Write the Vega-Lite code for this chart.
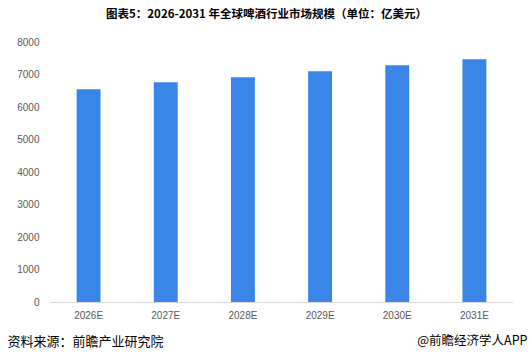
{
  "$schema": "https://vega.github.io/schema/vega-lite/v6.json",
  "width": 463,
  "height": 260,
  "autosize": {"type": "none"},
  "padding": {"left": 50, "top": 42, "right": 19, "bottom": 50},
  "background": "white",
  "title": {
    "text": "图表5：2026-2031 年全球啤酒行业市场规模（单位：亿美元）",
    "font": "Noto Sans CJK SC",
    "fontWeight": "bold",
    "fontSize": 11.5,
    "color": "#000000",
    "anchor": "middle",
    "frame": "group",
    "dx": -15,
    "offset": 11,
    "baseline": "middle"
  },
  "data": {
    "values": [
      {"year": "2026E", "value": 6545},
      {"year": "2027E", "value": 6760},
      {"year": "2028E", "value": 6915},
      {"year": "2029E", "value": 7100},
      {"year": "2030E", "value": 7285},
      {"year": "2031E", "value": 7468}
    ]
  },
  "mark": {"type": "bar", "color": "#3a86e8"},
  "encoding": {
    "x": {
      "field": "year",
      "type": "nominal",
      "sort": null,
      "scale": {"paddingInner": 0.69, "paddingOuter": 0.345},
      "axis": {
        "title": "资料来源：前瞻产业研究院",
        "titleFont": "Noto Sans CJK SC",
        "titleFontSize": 13,
        "titleFontWeight": "normal",
        "titleColor": "#000000",
        "titleAnchor": "start",
        "titleAlign": "left",
        "titleBaseline": "middle",
        "titleX": -43,
        "titleY": 39,
        "labelAngle": 0,
        "labelFont": "Liberation Sans",
        "labelFontSize": 10,
        "labelColor": "#595959",
        "labelPadding": 8,
        "ticks": false,
        "domainColor": "#d9d9d9",
        "domainWidth": 1
      }
    },
    "y": {
      "field": "value",
      "type": "quantitative",
      "scale": {"domain": [0, 8000]},
      "axis": {
        "title": "@前瞻经济学人APP",
        "titleAngle": 0,
        "titleFont": "Noto Sans CJK SC",
        "titleFontSize": 12.5,
        "titleFontWeight": "normal",
        "titleColor": "#000000",
        "titleAlign": "right",
        "titleBaseline": "middle",
        "titleX": 477,
        "titleY": 298,
        "values": [0, 1000, 2000, 3000, 4000, 5000, 6000, 7000, 8000],
        "format": "d",
        "grid": false,
        "domain": false,
        "ticks": false,
        "labelFont": "Liberation Sans",
        "labelFontSize": 10,
        "labelColor": "#595959",
        "labelPadding": 11
      }
    }
  },
  "config": {"view": {"stroke": null}}
}
